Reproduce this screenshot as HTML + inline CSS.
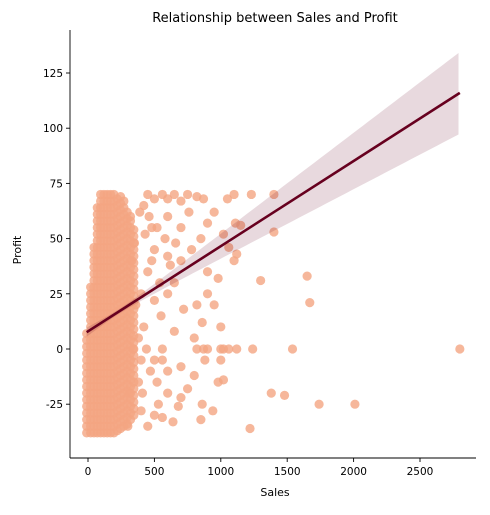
<!DOCTYPE html>
<html><head><meta charset="utf-8"><style>
body{margin:0;background:#fff;font-family:"Liberation Sans","DejaVu Sans",sans-serif}
svg text{font-family:"DejaVu Sans","Liberation Sans",sans-serif}
</style></head><body>
<svg id="chart" width="490" height="510" viewBox="0 0 490 510">
<text x="275" y="22" font-size="13" text-anchor="middle">Relationship between Sales and Profit</text>
<g id="pts"></g>
<g id="band"></g>
<g id="reg"></g>
<g id="axes"></g>
<text x="275" y="496" font-size="11" text-anchor="middle">Sales</text>
<text x="21" y="250" font-size="11" text-anchor="middle" transform="rotate(-90 21 250)">Profit</text>
</svg>
<script>
const xTicks=[0,500,1000,1500,2000,2500];
const yTicks=[-25,0,25,50,75,100,125];
const denseSales=[-10,20,45,70,95,120,145,170,195,220,245,270,295,320,345];
const denseMin=[-38,-38,-38,-38,-38,-38,-38,-38,-38,-37,-36,-35,-34,-32,-30];
const denseMax=[8,28,48,64,70,70,70,70,70,70,70,68,64,60,55];
const outSales=[450,500,560,600,650,700,750,820,870,1050,1100,1230,1400,1110,1150,1400,1020,1060,1120,1300,1650,1670,1100,
820,870,900,1000,1060,1120,1240,1540,2800,1020,
1380,1480,1740,2010,1220,980,1020,860,940,850,700,750,640,560,680,
900,980,700,780,650,820,860,1000,720,600,550,500,480,600,700,760,900,950,850,900,950,1000,650,800,500,600,700,800,880,530,600,450,500,400,450,350,420,380,400,320,340,300,330,310,360,
420,460,520,580,480,540,620,400,440,380,410,470,520,560,390,430,600,660,500,560];
const outProfit=[70,68,70,68,70,67,70,69,68,68,70,70,70,57,56,53,52,46,43,31,33,21,40,
0,0,0,0,0,0,0,0,0,0,
-20,-21,-25,-25,-36,-15,-14,-25,-28,-32,-22,-18,-33,-31,-26,
35,32,40,45,30,20,12,10,18,25,15,45,55,60,55,62,57,62,50,25,20,-5,8,5,-5,-10,-8,-12,-5,-25,-20,-35,-30,25,35,48,10,-15,-28,60,0,-35,40,-20,20,
65,60,55,50,40,30,38,-5,0,5,-20,-10,-15,-5,62,52,42,48,22,0];
const intercept=8, slope=0.03857, meanX=230;

const X=s=>88+s*0.1328, Y=p=>349-p*2.208;
const NS='http://www.w3.org/2000/svg';
function mk(tag,attrs,parent){const e=document.createElementNS(NS,tag);for(const k in attrs)e.setAttribute(k,attrs[k]);parent.appendChild(e);return e;}
const pts=document.getElementById('pts');
function dot(s,p){const c=mk('circle',{cx:X(s),cy:Y(p),r:4.6,fill:'#f4a582','fill-opacity':0.8},pts);

}
denseSales.forEach((s,i)=>{for(let p=denseMin[i];p<=denseMax[i];p+=3){dot(s,p);}});
outSales.forEach((s,i)=>dot(s,outProfit[i]));
const band=document.getElementById('band');
let up=[],lo=[];
for(let s=-10;s<=2800;s+=40){const h=Math.sqrt(1.2+5.18e-5*(s-meanX)*(s-meanX));const f=intercept+slope*s;up.push(X(s)+','+Y(f+h));lo.unshift(X(s)+','+Y(f-h));}
const bp=mk('polygon',{points:up.concat(lo).join(' '),fill:'#67001f','fill-opacity':0.15},band);


const rl=mk('line',{x1:X(-10),y1:Y(intercept-slope*10),x2:X(2800),y2:Y(intercept+slope*2800),stroke:'#67001f','stroke-width':2.6},document.getElementById('reg'));


const ax=document.getElementById('axes');
mk('line',{x1:70,y1:30,x2:70,y2:458,stroke:'#000','stroke-width':0.9},ax);
mk('line',{x1:70,y1:458,x2:476,y2:458,stroke:'#000','stroke-width':0.9},ax);
xTicks.forEach(t=>{mk('line',{x1:X(t),y1:458,x2:X(t),y2:462,stroke:'#000','stroke-width':0.9},ax);
const tx=mk('text',{x:X(t),y:475,'font-size':10.5,'text-anchor':'middle'},ax);tx.textContent=t;

});
yTicks.forEach(t=>{mk('line',{x1:66,y1:Y(t),x2:70,y2:Y(t),stroke:'#000','stroke-width':0.9},ax);
const tx=mk('text',{x:63,y:Y(t)+4,'font-size':10.5,'text-anchor':'end'},ax);tx.textContent=t;

});
</script>
</body></html>
